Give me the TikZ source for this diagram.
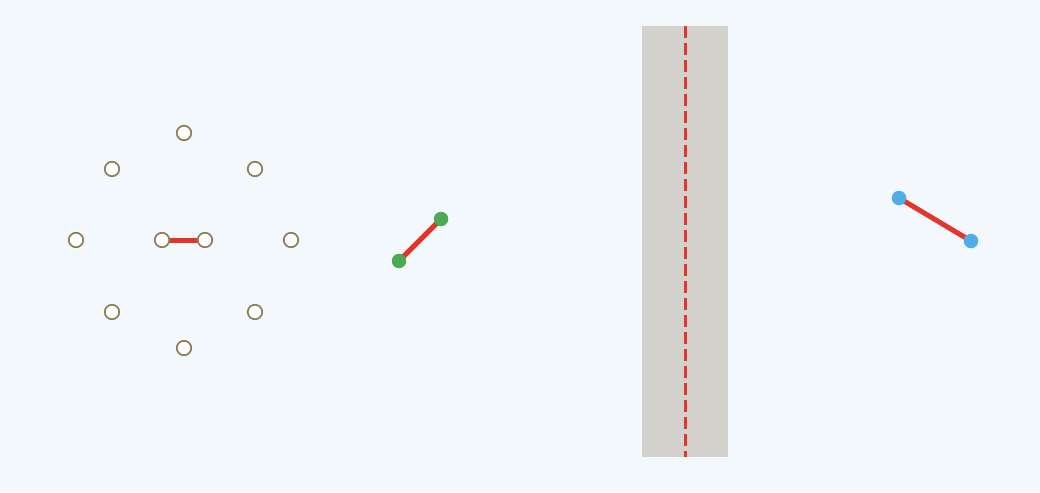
\documentclass[tikz,border=0pt]{standalone}
\begin{document}
\begin{tikzpicture}[x=1pt,y=-1pt,
  ring/.style={circle,draw=ringc,fill=white,line width=1.7pt,minimum size=14.5pt,inner sep=0pt},
  gdot/.style={circle,fill=greenc,minimum size=14.5pt,inner sep=0pt},
  bdot/.style={circle,fill=bluec,minimum size=14.5pt,inner sep=0pt},
  seg/.style={draw=redc,line width=5pt},
]
\definecolor{bgc}{HTML}{F3F8FC}
\definecolor{ringc}{HTML}{8C7F55}
\definecolor{redc}{HTML}{E5352A}
\definecolor{greenc}{HTML}{4CAA55}
\definecolor{bluec}{HTML}{4FAEE6}
\definecolor{bandc}{HTML}{D4D2CC}
\useasboundingbox (0,0) rectangle (1040,492);
\fill[bgc] (0,0) rectangle (1040,492);
% band
\fill[bandc] (642,26) rectangle (728,457);
\coordinate (bt) at (685,26);
\coordinate (bb) at (685,457);
\draw[redc,line width=3pt,dash pattern=on 12pt off 5pt] (bt) -- (bb);
% left cluster
\node[ring] (t) at (184,133) {};
\node[ring] (tl) at (112,169) {};
\node[ring] (tr) at (255,169) {};
\node[ring] (l) at (76,240) {};
\node[ring] (r) at (291,240) {};
\node[ring] (bl) at (112,312) {};
\node[ring] (br) at (255,312) {};
\node[ring] (b) at (184,348) {};
\coordinate (clc) at (162,240);
\coordinate (crc) at (205,240);
\draw[seg] (clc) -- (crc);
\node[ring] (cl) at (clc) {};
\node[ring] (cr) at (crc) {};
% green segment
\coordinate (g1c) at (399,261);
\coordinate (g2c) at (441,219);
\draw[seg] (g1c) -- (g2c);
\node[gdot] (g1) at (g1c) {};
\node[gdot] (g2) at (g2c) {};
% blue segment
\coordinate (b1c) at (899,198);
\coordinate (b2c) at (971,241);
\draw[seg] (b1c) -- (b2c);
\node[bdot] (b1) at (b1c) {};
\node[bdot] (b2) at (b2c) {};
\end{tikzpicture}
\end{document}
